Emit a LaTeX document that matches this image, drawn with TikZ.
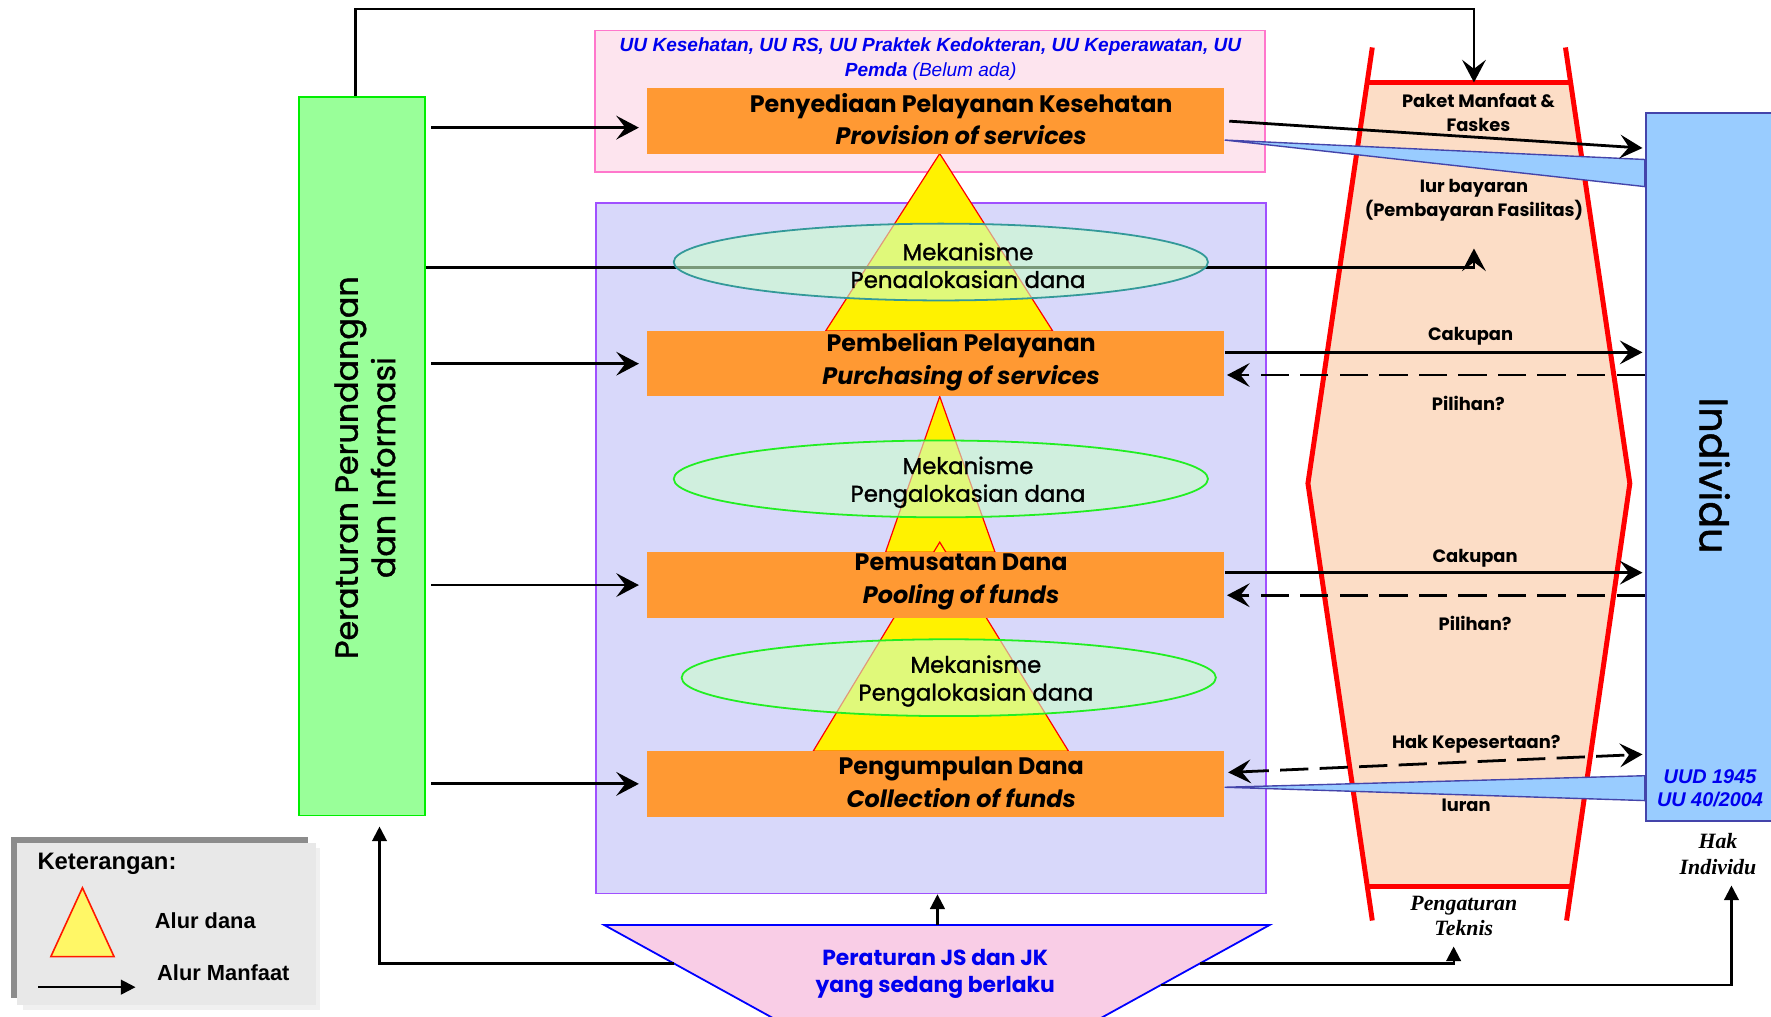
\documentclass[tikz,border=0pt]{standalone}
\usepackage{fontspec}
\setmainfont{Liberation Sans}
\newfontfamily\gothic{Poppins}
\newfontfamily\gothicmed{Poppins}[FakeBold=1.2]
\newfontfamily\serifbi{Liberation Serif}
\usetikzlibrary{arrows.meta,shapes.geometric}

\definecolor{boxorange}{HTML}{FF9933}
\definecolor{regulgreen}{HTML}{99FF99}
\definecolor{regulline}{HTML}{00EE00}
\definecolor{uupink}{HTML}{FDE4EE}
\definecolor{uuline}{HTML}{FF77CC}
\definecolor{fundlav}{HTML}{D8D8FA}
\definecolor{fundline}{HTML}{A050FF}
\definecolor{tekfill}{HTML}{FCDDC6}
\definecolor{indivblue}{HTML}{99CCFF}
\definecolor{indivline}{HTML}{4444AA}
\definecolor{jspink}{HTML}{F9CDE6}
\definecolor{allocfill}{HTML}{CCFFCC}
\definecolor{allocteal}{HTML}{339999}
\definecolor{allocgreen}{HTML}{22EE22}
\definecolor{legendgray}{HTML}{E8E8E8}
\definecolor{shadowgray}{HTML}{8C8C8C}
\definecolor{lawblue}{HTML}{0000EE}

\tikzset{
  flow/.style={line width=1.4pt, -{Stealth[length=4mm,width=4.2mm,inset=1.6mm]}},
  dashflow/.style={flow, dash pattern=on 5mm off 2mm},
  upflow/.style={line width=1.1pt, -{Triangle[length=2.6mm,width=2.6mm]}},
  orangebox/.style={fill=boxorange, minimum width=102.2mm, minimum height=11.6mm, inner sep=0pt},
  boxtext/.style={align=center, font=\gothic\bfseries\fontsize{12}{16.5}\selectfont},
  alloc/.style={ellipse, fill=allocfill, fill opacity=0.6, line width=0.9pt,
    minimum width=94.6mm, minimum height=13.6mm, inner sep=0pt},
  alloctext/.style={align=center, font=\gothicmed\fontsize{11.5}{14}\selectfont},
  tektext/.style={align=center, font=\gothic\bfseries\fontsize{9}{12}\selectfont},
  fundtri/.style={fill=yellow, draw=red, line width=0.6pt},
  tekline/.style={draw=red, line width=2.5pt},
  wedge/.style={fill=indivblue, draw=indivline, line width=0.7pt},
  lawtext/.style={align=center, text=lawblue, font=\fontsize{9.6}{12.5}\selectfont},
  serifnote/.style={align=center, font=\serifbi\bfseries\itshape\fontsize{11}{12.8}\selectfont}
}

\begin{document}
\begin{tikzpicture}[x=0.2mm,y=-0.2mm]
\useasboundingbox (0,0) rectangle (1568,900);

% legend
\fill[black!6] (20,751) rectangle (283,894);
\fill[shadowgray] (10,741) rectangle (273,884);
\node[fill=legendgray, minimum width=53mm, minimum height=28.8mm, inner sep=0pt] (legend) at (147.5,818) {};
\node[anchor=west, font=\bfseries\fontsize{12}{14}\selectfont] (lgtitle) at (27,765) {Keterangan:};
\draw[fill=yellow!60, draw=red!80!orange, line width=0.8pt] (73,786) -- (101,847) -- (45,847) -- cycle;
\node[anchor=west, font=\bfseries\fontsize{11}{13}\selectfont] (lgdana) at (131,815) {Alur dana};
\node[anchor=west, font=\bfseries\fontsize{11}{13}\selectfont] (lgmanfaat) at (133,861) {Alur Manfaat};
\coordinate (lgA) at (34,874);
\coordinate (lgB) at (120,874);
\draw[line width=1.1pt, -{Triangle[length=2.6mm,width=2.6mm]}] (lgA) -- (lgB);

% main boxes
\node[fill=regulgreen, draw=regulline, line width=0.9pt, minimum width=22.2mm, minimum height=127.2mm, inner sep=0pt] (regul) at (320.5,404) {};
\node[fill=uupink, draw=uuline, line width=0.9pt, minimum width=118.6mm, minimum height=25mm, inner sep=0pt] (uubox) at (823.5,89.5) {};
\node[fill=fundlav, draw=fundline, line width=0.9pt, minimum width=118.6mm, minimum height=122.2mm, inner sep=0pt] (fundbox) at (824.5,485.5) {};
\node[fill=indivblue, draw=indivline, line width=0.9pt, minimum width=24.6mm, minimum height=125.4mm, inner sep=0pt] (indiv) at (1518.5,413.5) {};

% pengaturan teknis
\fill[tekfill] (1210,73) -- (1390.6,73) -- (1443,428) -- (1391.3,785) -- (1210.6,785) -- (1158,428) -- cycle;
\draw[tekline] (1215,42) -- (1158,428) -- (1215,815);
\draw[tekline] (1386,42) -- (1443,428) -- (1387,815);
\draw[tekline] (1210,73) -- (1390.6,73);
\draw[tekline] (1210.6,785) -- (1391.3,785);
\coordinate (tekTop) at (1305,73);
\coordinate (iurArr) at (1305,220);
\coordinate (iurLine) at (1305,237);

% peraturan JS dan JK
\filldraw[fill=jspink, draw=blue, line width=0.9pt] (700,910) -- (535,819) -- (1124,819) -- (959,910);
\coordinate (jsTop) at (830,819);
\coordinate (jsL) at (597,853);
\coordinate (jsR1) at (1062,853);
\coordinate (jsR2) at (1028,872);
\coordinate (tekFoot) at (1287,838);
\coordinate (hakFoot) at (1533,784);

% alur dana
\draw[fundtri] (832,136) -- (932,293) -- (731,293) -- cycle;
\draw[fundtri] (832,351) -- (881,489) -- (784,489) -- cycle;
\draw[fundtri] (832,480) -- (946,665) -- (720,665) -- cycle;

% fungsi
\node[orangebox] (prov) at (828.5,107) {};
\node[orangebox] (purch) at (828.5,322) {};
\node[orangebox] (pool) at (828.5,518) {};
\node[orangebox] (coll) at (828.5,694) {};

% connectors
\coordinate (topL) at (315,8);
\draw[flow] (regul.north -| topL) -- (topL) -| (tekTop);
\coordinate (provIn) at ([yshift=-1.2mm]prov.west);
\draw[flow, shorten <=1mm, shorten >=1.4mm] (regul.east |- provIn) -- (provIn);
\draw[flow, shorten <=1mm, shorten >=1.4mm] (regul.east |- purch.west) -- (purch.west);
\draw[flow, shorten <=1mm, shorten >=1.4mm] (regul.east |- pool.west) -- (pool.west);
\draw[flow, shorten <=1mm, shorten >=1.4mm] (regul.east |- coll.west) -- (coll.west);
\draw[flow] (regul.east |- iurLine) -| (iurArr);

\filldraw[wedge] ([yshift=-3.4mm]prov.east) -- ([yshift=-8.4mm]indiv.north west) -- ([yshift=-13.2mm]indiv.north west) -- cycle;
\draw[flow, shorten <=0.8mm, shorten >=0.4mm] (prov.east) -- ([yshift=-6.4mm]indiv.north west);
\draw[flow, shorten >=0.4mm] ([yshift=2mm]purch.east) -- ([yshift=2mm]purch.east -| indiv.west);
\draw[dashflow, shorten >=0.4mm] ([yshift=-2mm]purch.east -| indiv.west) -- ([yshift=-2mm]purch.east);
\draw[flow, shorten >=0.4mm] ([yshift=2.2mm]pool.east) -- ([yshift=2.2mm]pool.east -| indiv.west);
\draw[dashflow, shorten >=0.4mm] ([yshift=-1.8mm]pool.east -| indiv.west) -- ([yshift=-1.8mm]pool.east);
\draw[dashflow, {Stealth[length=4mm,width=4.2mm,inset=1.6mm]}-{Stealth[length=4mm,width=4.2mm,inset=1.6mm]}, shorten <=0.6mm, shorten >=0.4mm]
  ([yshift=2mm]coll.east) -- ([yshift=12mm]indiv.south west);
\filldraw[wedge] ([yshift=-0.6mm]coll.east) -- ([yshift=8.2mm]indiv.south west) -- ([yshift=3.8mm]indiv.south west) -- cycle;

\draw[upflow] (jsTop) -- (jsTop |- fundbox.south);
\draw[upflow, shorten >=1.8mm] (jsL) -| ([xshift=3.1mm]regul.south);
\draw[upflow] (jsR1) -| (tekFoot);
\draw[upflow] (jsR2) -| (hakFoot);

% mekanisme
\node[alloc, draw=allocteal] (alloc1) at (833,232) {};
\node[alloc, draw=allocgreen] (alloc2) at (833,424) {};
\node[alloc, draw=allocgreen] (alloc3) at (840,600) {};

% texts
\node[rotate=90, align=center, font=\gothicmed\fontsize{16}{18.8}\selectfont] (regultext) at (323,414) {Peraturan Perundangan\\dan Informasi};
\node[lawtext] (uutext) at (824,52) {\textbf{\textit{UU Kesehatan, UU RS, UU Praktek Kedokteran, UU Keperawatan, UU}}\\\textbf{\textit{Pemda}} \textit{(Belum ada)}};
\node[boxtext] (provtext) at (851,105.5) {Penyediaan Pelayanan Kesehatan\\\itshape Provision of services};
\node[boxtext] (purchtext) at (851,320.5) {Pembelian Pelayanan\\\itshape Purchasing of services};
\node[boxtext] (pooltext) at (851,515.5) {Pemusatan Dana\\\itshape Pooling of funds};
\node[boxtext] (colltext) at (851,692.5) {Pengumpulan Dana\\\itshape Collection of funds};
\node[alloctext] (alloc1text) at (857,235) {Mekanisme\\Penaalokasian dana};
\node[alloctext] (alloc2text) at (857,427) {Mekanisme\\Pengalokasian dana};
\node[alloctext] (alloc3text) at (864,603) {Mekanisme\\Pengalokasian dana};
\node[tektext] (paket) at (1309,100) {Paket Manfaat \&\\Faskes};
\node[tektext] (iur) at (1305,177) {Iur bayaran\\(Pembayaran Fasilitas)};
\node[tektext] (cakup1) at (1302,298) {Cakupan};
\node[tektext] (pilih1) at (1300,357) {Pilihan?};
\node[tektext] (cakup2) at (1306,494) {Cakupan};
\node[tektext] (pilih2) at (1306,552) {Pilihan?};
\node[tektext] (hakpes) at (1307,659) {Hak Kepesertaan?};
\node[tektext] (iuran) at (1298,713) {Iuran};
\node[rotate=-90, font=\gothicmed\fontsize{20}{24}\selectfont] (indivtext) at (1518,421) {Individu};
\node[align=center, text=lawblue, font=\bfseries\itshape\fontsize{10}{11.4}\selectfont] (uudtext) at (1514,698) {UUD 1945\\UU 40/2004};
\node[serifnote] (haktext) at (1521,756) {Hak\\Individu};
\node[serifnote] (tektext) at (1296,811) {Pengaturan\\Teknis};
\node[align=center, text=lawblue, font=\gothic\bfseries\fontsize{11}{13.7}\selectfont] (jstext) at (828,862) {Peraturan JS dan JK\\yang sedang berlaku};
\end{tikzpicture}
\end{document}
